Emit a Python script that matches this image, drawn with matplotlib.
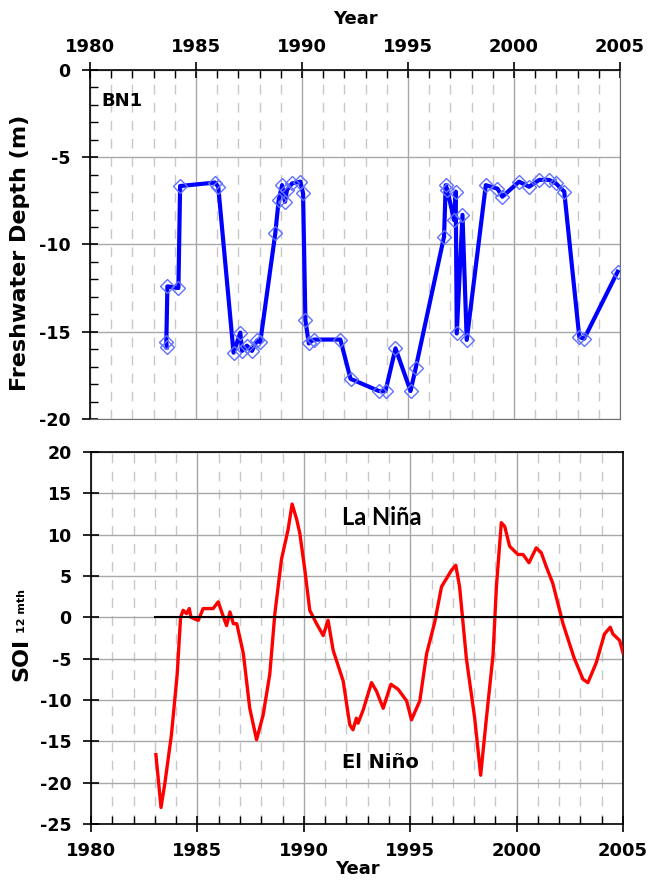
import matplotlib.pyplot as plt
import numpy as np
from matplotlib.ticker import MultipleLocator

# BN1 freshwater depth observations
bn1_year = [1983.62, 1983.60, 1983.65, 1984.17, 1984.25, 1985.90, 1986.05, 1986.77,
            1987.09, 1987.17, 1987.40, 1987.64, 1987.88, 1988.03, 1988.74, 1988.90,
            1989.06, 1989.20, 1989.29, 1989.53, 1989.92, 1990.05, 1990.16, 1990.32,
            1990.55, 1991.81, 1992.29, 1993.63, 1993.94, 1994.41, 1995.12, 1995.36,
            1996.70, 1996.78, 1996.86, 1997.17, 1997.25, 1997.30, 1997.57, 1997.77,
            1998.67, 1999.22, 1999.45, 2000.24, 2000.71, 2001.19, 2001.66, 2001.98,
            2002.37, 2003.08, 2003.31, 2004.89]
bn1_depth = [-15.9, -15.6, -12.4, -12.5, -6.65, -6.45, -6.7, -16.2,
             -15.05, -16.1, -15.8, -16.1, -15.5, -15.6, -9.36, -7.45,
             -6.6, -7.55, -6.88, -6.5, -6.4, -7.07, -14.33, -15.67,
             -15.45, -15.45, -17.7, -18.4, -18.4, -15.95, -18.4, -17.1,
             -9.55, -6.6, -6.9, -8.6, -6.97, -15.1, -8.3, -15.47,
             -6.6, -6.8, -7.26, -6.4, -6.69, -6.3, -6.3, -6.5,
             -6.97, -15.3, -15.4, -11.56]

# 12-month SOI
soi_year = [1983.05, 1983.29, 1983.47, 1983.78, 1984.05, 1984.21, 1984.33, 1984.49,
            1984.62, 1984.70, 1985.04, 1985.27, 1985.74, 1985.98, 1986.14, 1986.37,
            1986.53, 1986.69, 1986.85, 1987.16, 1987.46, 1987.78, 1988.09, 1988.40,
            1988.64, 1988.95, 1989.26, 1989.45, 1989.66, 1989.81, 1990.05, 1990.28,
            1990.60, 1990.91, 1991.14, 1991.38, 1991.85, 1992.16, 1992.31, 1992.47,
            1992.55, 1992.79, 1993.18, 1993.41, 1993.73, 1994.09, 1994.43, 1994.83,
            1995.06, 1995.45, 1995.77, 1996.15, 1996.47, 1996.94, 1997.14, 1997.32,
            1997.64, 1998.03, 1998.31, 1998.58, 1998.89, 1999.05, 1999.28, 1999.44,
            1999.67, 2000.06, 2000.30, 2000.58, 2000.92, 2001.16, 2001.39, 2001.70,
            2002.18, 2002.70, 2003.12, 2003.35, 2003.74, 2004.13, 2004.40, 2004.52,
            2004.84, 2005.00]
soi = [-16.6, -23.0, -20.1, -14.2, -6.9, 0.0, 0.85, 0.45,
       1.06, 0.0, -0.37, 1.06, 1.06, 1.87, 0.65, -1.0,
       0.65, -0.77, -0.77, -4.4, -11.0, -14.8, -11.8, -6.9,
       0.45, 7.0, 10.6, 13.7, 11.9, 10.2, 5.7, 0.85,
       -0.77, -2.2, -0.37, -4.0, -7.7, -13.0, -13.6, -12.2,
       -12.8, -11.2, -7.9, -8.9, -11.0, -8.1, -8.7, -10.1,
       -12.4, -10.1, -4.4, -0.6, 3.7, 5.7, 6.3, 3.7,
       -5.0, -12.2, -19.1, -12.2, -4.6, 3.7, 11.45, 11.0,
       8.6, 7.6, 7.6, 6.6, 8.4, 7.8, 6.15, 4.1,
       -0.77, -4.9, -7.5, -7.9, -5.5, -2.0, -1.2, -2.0,
       -2.8, -4.3]

plt.rcParams['font.family'] = ['DejaVu Sans']
plt.rcParams['font.weight'] = 'bold'
plt.rcParams['axes.unicode_minus'] = False

fig = plt.figure(figsize=(6.49, 8.85), dpi=100)
ax1 = fig.add_axes([0.1387, 0.5266, 0.8166, 0.3943])
ax2 = fig.add_axes([0.1402, 0.0689, 0.8198, 0.4204])


def style_grid(ax):
    ax.xaxis.set_major_locator(MultipleLocator(5))
    ax.xaxis.set_minor_locator(MultipleLocator(1))
    ax.grid(which='major', color='#a8a8a8', linewidth=1.0, linestyle='-')
    ax.grid(which='minor', axis='x', color='#c8c8c8', linewidth=1.0, linestyle=(0, (7, 6)))
    ax.set_axisbelow(True)
    ax.tick_params(which='major', direction='inout', length=12, width=1.2, labelsize=13)
    ax.tick_params(axis='y', which='major', pad=8, labelsize=12.5)
    ax.tick_params(which='minor', direction='in', length=6, width=1.0)
    for lab in ax.get_xticklabels() + ax.get_yticklabels():
        lab.set_fontweight('bold')


# top panel: freshwater depth
ax1.plot(bn1_year, bn1_depth, color='#0000ff', linewidth=3.0, zorder=3)
ax1.plot(bn1_year, bn1_depth, linestyle='none', marker='D', markersize=7,
         markerfacecolor='none', markeredgecolor='#6070ff', markeredgewidth=1.0, zorder=4)
ax1.set_xlim(1980, 2005)
ax1.set_ylim(-20, 0)
ax1.yaxis.set_major_locator(MultipleLocator(5))
ax1.yaxis.set_minor_locator(MultipleLocator(1))
ax1.xaxis.tick_top()
ax1.xaxis.set_label_position('top')
style_grid(ax1)
ax1.tick_params(axis='x', which='both', top=True, bottom=False)
ax1.tick_params(axis='x', which='major', pad=4)
ax1.set_xlabel('Year', fontsize=13, fontweight='bold', labelpad=10)
for side in ['right', 'bottom']:
    ax1.spines[side].set_color('#707070')
for side in ['left', 'top']:
    ax1.spines[side].set_linewidth(1.2)
ax1.text(1980.55, -1.75, 'BN1', fontsize=13, fontweight='bold', va='center')
fig.text(20 / 649, 1 - 253 / 885, 'Freshwater Depth (m)', rotation=90, fontsize=16,
         fontweight='bold', ha='center', va='center')

# bottom panel: SOI
ax2.plot(soi_year, soi, color='#ff0000', linewidth=2.4, zorder=3)
ax2.plot([1983, 2005], [0, 0], color='black', linewidth=1.5, zorder=4)
ax2.set_xlim(1980, 2005)
ax2.set_ylim(-25, 20)
ax2.yaxis.set_major_locator(MultipleLocator(5))
style_grid(ax2)
ax2.tick_params(axis='x', which='both', top=False, bottom=True)
ax2.tick_params(axis='x', which='major', pad=7)
ax2.set_xlabel('Year', fontsize=13, fontweight='bold', labelpad=0)
for side in ['left', 'bottom', 'right', 'top']:
    ax2.spines[side].set_linewidth(1.2)
ax2.text(1991.78, 12.1, 'La Niña', fontsize=17, fontweight='bold', va='center',
         family=['Lato', 'DejaVu Sans'])
ax2.text(1991.81, -17.5, 'El Niño', fontsize=14, fontweight='bold', va='center')

fig.text(21 / 649, 1 - 681 / 885, 'SOI', rotation=90, fontsize=16, fontweight='bold',
         ha='center', va='bottom')
fig.text(22 / 649, 1 - 633 / 885, '12 mth', rotation=90, fontsize=8, fontweight='bold',
         ha='center', va='bottom')

fig.savefig('out.png', dpi=100)
